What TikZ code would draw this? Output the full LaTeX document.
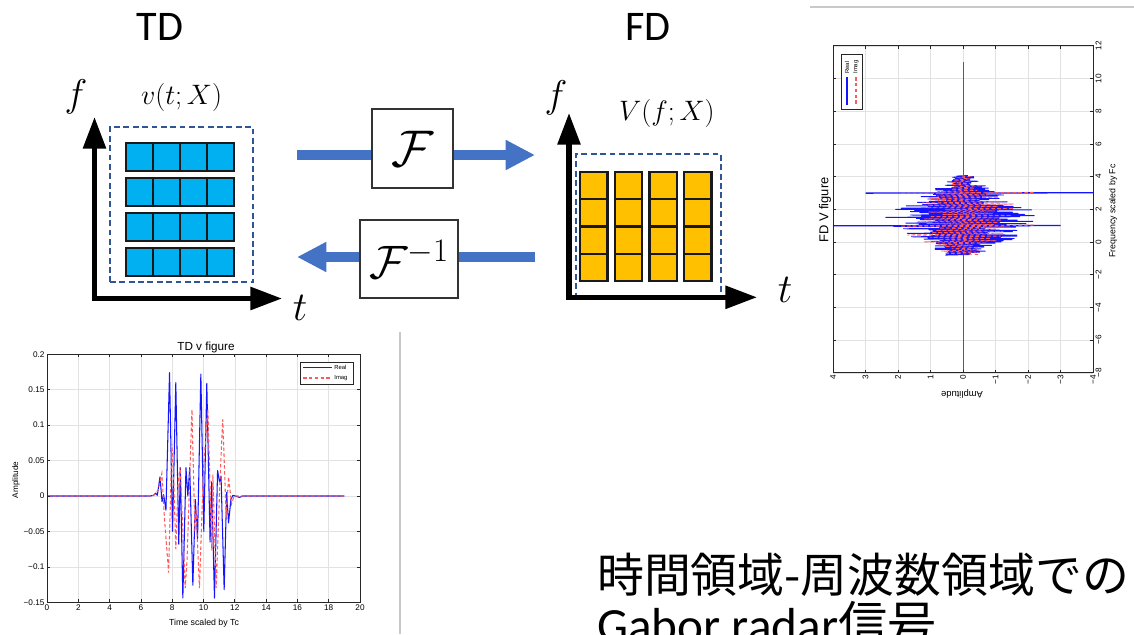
\RequirePackage{fix-cm}
\documentclass[tikz,border=0pt]{standalone}
\usepackage{amsmath,amssymb}
\usepackage{fontspec}
\newfontfamily\slidefont{Carlito}
\newfontfamily\jpfont{Noto Sans CJK JP}
\newfontfamily\plotfont{Liberation Sans}
\usepackage{tikz}
\usetikzlibrary{positioning,arrows.meta}
\usepackage{xcolor}
\definecolor{arrowblue}{RGB}{68,114,196}
\definecolor{cellblue}{RGB}{0,176,240}
\definecolor{cellgold}{RGB}{255,192,0}
\definecolor{dashblue}{RGB}{47,85,151}
\definecolor{sepgray}{RGB}{200,200,200}
\definecolor{gridgray}{RGB}{226,226,226}
\definecolor{realblue}{RGB}{20,20,255}
\definecolor{imagred}{RGB}{255,90,90}

\begin{document}
\begin{tikzpicture}[x=0.03cm, y=-0.03cm,
  headline/.style={inner sep=0pt, font=\slidefont\fontsize{36}{36}\selectfont},
  mathlab/.style={inner sep=0pt, font=\fontsize{24}{24}\selectfont},
  axislab/.style={inner sep=0pt, font=\fontsize{33}{33}\selectfont},
  axisarrow/.style={line width=4.3pt,
    {Triangle[length=27pt,width=19pt]}-{Triangle[length=27pt,width=19pt]}},
  dashbox/.style={draw=dashblue, line width=1.2pt, dash pattern=on 5pt off 3pt,
    inner sep=0pt},
  tdcell/.style={fill=cellblue, draw=black!90, line width=2pt},
  fdcell/.style={fill=cellgold, draw=black!90, line width=2pt},
  opbox/.style={draw=black!80, line width=1.1pt, fill=white, inner sep=0pt,
    font=\fontsize{44}{44}\selectfont},
  flowline/.style={arrowblue, line width=9.2pt},
  flow/.style={flowline, -{Triangle[length=25pt,width=24pt]}},
  sepline/.style={draw=sepgray, line width=1pt},
  gridline/.style={draw=gridgray, line width=0.5pt},
  plotframe/.style={draw=black!85, line width=0.6pt},
  realline/.style={draw=realblue, line width=0.9pt, line join=round},
  imagline/.style={draw=imagred, line width=0.9pt, dash pattern=on 3pt off 2pt},
  zeroline/.style={draw=violet!80, line width=0.6pt},
  ticklab/.style={font=\plotfont\fontsize{7}{7}\selectfont, inner sep=2pt},
  plottitle/.style={font=\plotfont\fontsize{10}{10}\selectfont, inner sep=0pt},
  plotlab/.style={font=\plotfont\fontsize{7.5}{7.5}\selectfont, inner sep=0pt},
  legendlab/.style={font=\plotfont\fontsize{5}{5}\selectfont, inner sep=1pt},
  declare function={fdenv(\f)=2.4*exp(-((\f-1.4)^2)/3.4);}
]
\useasboundingbox (0,0) rectangle (1134,634);
\fill[white] (0,0) rectangle (1134,634);

% headings
\node[headline, anchor=base] (tdhead) at (160,40) {TD};
\node[headline, anchor=base] (fdhead) at (648,40) {FD};

% time domain grid
\node[dashbox, minimum width=4.29cm, minimum height=4.65cm] (tdframe) at (181.5,204.5) {};
\foreach \r in {0,...,3}
  \foreach \c in {0,...,3}
    \draw[tdcell] ({126+27*\c},{143+35*\r}) rectangle ++(27,28);
\coordinate (tdorigin) at (94.5,298.5);
\coordinate (tdftip) at (94.5,117);
\coordinate (tdttip) at (282,298.5);
\draw[axisarrow] (tdftip) -- (tdorigin) -- (tdttip);
\node[axislab] (tdf) at (76,97) {$f$};
\node[axislab, font=\fontsize{35}{35}\selectfont] (tdt) at (300,308) {$t$};
\node[mathlab, above=0.45cm of tdframe] (tdsig) {$v(t;X)$};

% frequency domain grid
\node[dashbox, minimum width=4.35cm, minimum height=4.29cm] (fdframe) at (648.5,225.5) {};
\foreach \c in {0,...,3}
  \foreach \r in {0,...,3}
    \draw[fdcell] ({580+34.7*\c},{172+27.25*\r}) rectangle ++(27.5,27.25);
\coordinate (fdorigin) at (569,297.3);
\coordinate (fdftip) at (569,113);
\coordinate (fdttip) at (757,297.3);
\draw[axisarrow] (fdftip) -- (fdorigin) -- (fdttip);
\node[axislab] (fdf) at (556,98) {$f$};
\node[axislab, font=\fontsize{35}{35}\selectfont] (fdt) at (785,290) {$t$};
\node[mathlab, above=0.78cm of fdframe, xshift=0.55cm] (fdsig) {$V(f;X)$};

% transforms
\node[opbox, minimum width=2.43cm, minimum height=2.37cm] (fwdbox) at (412.5,148.5) {$\mathcal{F}$};
\node[opbox, minimum width=2.94cm, minimum height=2.34cm,
  font=\fontsize{40}{40}\selectfont] (invbox) at (409,259) {$\mathcal{F}^{-1}$};
\coordinate (fwdL) at (297,155);
\coordinate (fwdR) at (535,155);
\coordinate (invL) at (297,257);
\coordinate (invR) at (535,257);
\draw[flowline] (fwdL) -- (fwdL -| fwdbox.west);
\draw[flow] (fwdL -| fwdbox.east) -- (fwdR);
\draw[flowline] (invR) -- (invR -| invbox.east);
\draw[flow] (invR -| invbox.west) -- (invL);

% separators
\draw[sepline] (400,332) -- (400,634);
\draw[sepline] (810,7) -- (1134,7);

% TD v figure
\begin{scope}[shift={(47,496)}, x={(0.4695cm,0cm)}, y={(0cm,21.26cm)}]
  \fill[white] (0,-0.15) rectangle (20,0.2);
  \foreach \t in {0,2,...,20}
    \draw[gridline] (\t,-0.15) -- (\t,0.2);
  \foreach \a in {-0.15,-0.1,-0.05,0,0.05,0.1,0.15,0.2}
    \draw[gridline] (0,\a) -- (20,\a);
  \draw[realline] plot coordinates {(0,0) (6.6,0) (6.8,0.001) (6.95,0.004)
    (7.05,0.001) (7.22,0.027) (7.35,-0.008) (7.45,0.002) (7.6,-0.02)
    (7.83,0.174) (8.02,-0.05) (8.23,0.16) (8.42,-0.068) (8.52,0.04)
    (8.68,-0.144) (8.88,0.04) (9.0,0.0) (9.12,0.04) (9.32,-0.126)
    (9.48,-0.005) (9.62,-0.06) (9.83,0.172) (10.02,-0.05) (10.21,0.159)
    (10.42,-0.065) (10.52,0.02) (10.70,-0.144) (10.9,0.036) (11.02,0.02)
    (11.12,0.028) (11.32,-0.132) (11.48,0.005) (11.6,-0.038) (11.75,-0.005)
    (11.88,0.001) (12.3,-0.002) (12.5,0) (19,0)};
  \draw[imagline] plot coordinates {(0,0) (6.7,0) (6.9,0.002) (7.1,0.008)
    (7.34,0.032) (7.5,-0.03) (7.77,-0.108) (7.98,0.074) (8.1,0.02)
    (8.23,-0.075) (8.38,0.02) (8.51,0.041) (8.83,-0.13) (8.95,-0.09)
    (9.26,0.122) (9.45,-0.05) (9.52,-0.02) (9.74,-0.13) (10.0,0.04)
    (10.28,0.122) (10.53,-0.077) (10.6,0.03) (10.81,-0.13) (11.06,0.027)
    (11.23,0.108) (11.45,-0.03) (11.6,0.027) (11.79,-0.011) (11.95,0.0)
    (19,0)};
  \draw[plotframe] (0,-0.15) rectangle (20,0.2);
  \foreach \t in {0,2,...,20} {
    \draw[plotframe] (\t,-0.15) -- ++(0,0.0042);
    \draw[plotframe] (\t,0.2) -- ++(0,-0.0042);
    \node[ticklab, anchor=north] (tdx\t) at (\t,-0.15) {\t};
  }
  \foreach \a/\lab [count=\i] in {-0.15/−0.15,-0.1/−0.1,-0.05/−0.05,0/0,
      0.05/0.05,0.1/0.1,0.15/0.15,0.2/0.2} {
    \draw[plotframe] (0,\a) -- ++(0.2,0);
    \draw[plotframe] (20,\a) -- ++(-0.2,0);
    \node[ticklab, anchor=east] (tdy\i) at (0,\a) {\lab};
  }
\end{scope}
\node[plottitle] (tdtitle) at (206,347) {TD v figure};
\node[plotlab] (tdxlab) at (204,623) {Time scaled by Tc};
\node[plotlab, rotate=90, font=\plotfont\fontsize{7}{7}\selectfont] (tdylab) at (16,480) {Amplitude};
\node[draw=black!85, fill=white, line width=0.5pt, minimum width=1.59cm,
  minimum height=0.66cm, inner sep=0pt] (tdlegend) at (326.5,373) {};
\draw[realline] (303,367.5) -- (332,367.5);
\node[legendlab, anchor=west] (tdreal) at (333,367.5) {Real};
\draw[imagline] (303,378) -- (332,378);
\node[legendlab, anchor=west] (tdimag) at (333,378) {Imag};

% FD V figure (turned on its side)
\begin{scope}[shift={(963,242)}, x={(0cm,0.4905cm)}, y={(-0.975cm,0cm)}]
  \fill[white] (-8,-4) rectangle (12,4);
  \foreach \f in {-8,-6,...,12}
    \draw[gridline] (\f,-4) -- (\f,4);
  \foreach \a in {-4,...,4}
    \draw[gridline] (-8,\a) -- (12,\a);
  \draw[zeroline] (-8,0) -- (11,0);
  \pgfmathsetseed{5}
  \draw[realline, line width=0.8pt] plot[domain=0:139, samples=140]
    ({-0.8+0.035*\x}, {(1-2*mod(\x,2))*fdenv(-0.8+0.035*\x)*(0.3+0.7*rnd)});
  \draw[realline, line width=1.1pt] (0.99,4) -- (1.01,-3);
  \draw[realline, line width=1.1pt] (2.99,3) -- (3.01,-4);
  \pgfmathsetseed{9}
  \draw[imagline, line width=0.7pt] plot[domain=0:69, samples=70]
    ({-0.76+0.07*\x}, {(2*mod(\x,2)-1)*fdenv(-0.76+0.07*\x)*(0.25+0.7*rnd)});
  \draw[imagline] (0.97,1.9) -- (1.03,-2.2);
  \draw[imagline] (2.97,1.9) -- (3.03,-2.2);
  \draw[plotframe] (-8,-4) rectangle (12,4);
  \foreach \f/\lab [count=\i] in {-8/−8,-6/−6,-4/−4,-2/−2,0/0,2/2,4/4,6/6,
      8/8,10/10,12/12} {
    \draw[plotframe] (\f,-4) -- ++(0,0.1);
    \draw[plotframe] (\f,4) -- ++(0,-0.1);
    \node[ticklab, rotate=90, anchor=north] (fdx\i) at (\f,-4) {\lab};
  }
  \foreach \a/\lab [count=\i] in {-4/−4,-3/−3,-2/−2,-1/−1,0/0,1/1,2/2,3/3,4/4} {
    \draw[plotframe] (-8,\a) -- ++(0.18,0);
    \draw[plotframe] (12,\a) -- ++(-0.18,0);
    \node[ticklab, rotate=90, anchor=east] (fdy\i) at (-8,\a) {\lab};
  }
\end{scope}
\node[plottitle, rotate=90, font=\plotfont\fontsize{11}{11}\selectfont] (fdtitle) at (825,210) {FD V figure};
\node[plotlab, rotate=90] (fdflab) at (1113,211) {Frequency scaled by Fc};
\node[plotlab, rotate=180, font=\plotfont\fontsize{8}{8}\selectfont] (fdalab) at (962,394) {Amplitude};
\node[draw=black!85, fill=white, line width=0.5pt, minimum width=0.63cm,
  minimum height=1.65cm, inner sep=0pt] (fdlegend) at (851.5,81.5) {};
\draw[realline] (847,77) -- (847,105);
\node[legendlab, rotate=90, anchor=west] (fdreal) at (847,75) {Real};
\draw[imagline] (856,77) -- (856,105);
\node[legendlab, rotate=90, anchor=west] (fdimag) at (856,75) {Imag};

% caption
\node[anchor=base west, inner sep=0pt, font=\jpfont\fontsize{40}{40}\selectfont]
  (jpline) at (597,592) {時間領域-周波数領域での};
\node[anchor=base west, inner sep=0pt, font=\fontsize{42}{42}\selectfont]
  (gaborline) at (597,642) {{\slidefont Gabor radar}{\jpfont 信号}};
\end{tikzpicture}
\end{document}
